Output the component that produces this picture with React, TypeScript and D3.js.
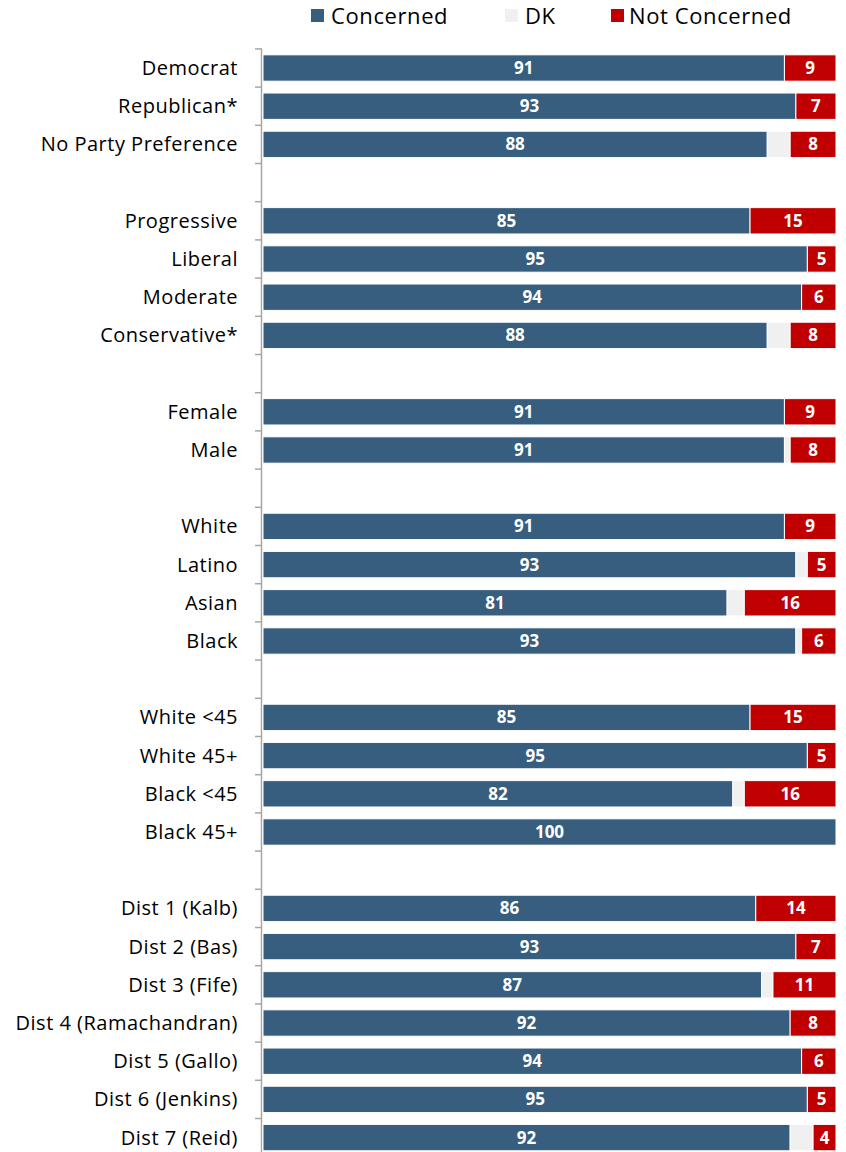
import React from "react";
import * as d3 from "d3";

const categories = [
  "Democrat", "Republican*", "No Party Preference", "",
  "Progressive", "Liberal", "Moderate", "Conservative*", "",
  "Female", "Male", "",
  "White", "Latino", "Asian", "Black", "",
  "White <45", "White 45+", "Black <45", "Black 45+", "",
  "Dist 1 (Kalb)", "Dist 2 (Bas)", "Dist 3 (Fife)", "Dist 4 (Ramachandran)", "Dist 5 (Gallo)", "Dist 6 (Jenkins)", "Dist 7 (Reid)",
];
const concerned = [91, 93, 88, null, 85, 95, 94, 88, null, 91, 91, null, 91, 93, 81, 93, null, 85, 95, 82, 100, null, 86, 93, 87, 92, 94, 95, 92];
const dk =        [0, 0, 4, null, 0, 0, 0, 4, null, 0, 1, null, 0, 2, 3, 1, null, 0, 0, 2, 0, null, 0, 0, 2, 0, 0, 0, 4];
const notConcerned = [9, 7, 8, null, 15, 5, 6, 8, null, 9, 8, null, 9, 5, 16, 6, null, 15, 5, 16, 0, null, 14, 7, 11, 8, 6, 5, 4];

const seriesNames = ["Concerned", "DK", "Not Concerned"];
const colors = ["#375e7e", "#f0f0f0", "#c00000"];

export default function App() {
  const W = 846, H = 1152;
  const x = d3.scaleLinear().domain([0, 100]).range([263, 836]);
  const idx = categories.map((_, i) => String(i));
  const y = d3.scaleBand().domain(idx).range([48.9, 48.9 + 29 * 38.2]).paddingInner(0.31).paddingOuter(0.155);
  const step = y.step();
  const top = 48.9;

  const rows = categories.map((c, i) => {
    if (concerned[i] === null) return null;
    const vals = [concerned[i] as number, dk[i] as number, notConcerned[i] as number];
    let acc = 0;
    const segs = vals.map((v, k) => {
      const s = { k, x0: acc, x1: acc + v, v };
      acc += v;
      return s;
    });
    return { c, i, segs };
  });

  const legendItems = [
    { name: seriesNames[0], sx: 311, tx: 331 },
    { name: seriesNames[1], sx: 505, tx: 525 },
    { name: seriesNames[2], sx: 611, tx: 629 },
  ];

  return (
    <div style={{ position: "absolute", left: 0, top: 0 }}>
      <svg width={W} height={H} style={{ display: "block", background: "#fff" }}>
        {legendItems.map((l, k) => (
          <g key={k}>
            <rect x={l.sx} y={9} width={13} height={13} fill={colors[k]} />
            <text x={l.tx} y={24} fontFamily="'Open Sans', sans-serif" fontSize={22} letterSpacing={0.6} fill="#000">{l.name}</text>
          </g>
        ))}
        {/* axis */}
        <line x1={261.5} x2={261.5} y1={top} y2={H + 10} stroke="#a6a6a6" strokeWidth={1.5} />
        {d3.range(0, 30).map((k) => (
          <line key={k} x1={255} x2={262} y1={top + k * step} y2={top + k * step} stroke="#a6a6a6" strokeWidth={1.5} />
        ))}
        {rows.map((r) =>
          r === null ? null : (
            <g key={r.i}>
              {r.segs.map((s) =>
                s.v > 0 ? (
                  <rect
                    key={s.k}
                    x={x(s.x0)}
                    y={y(String(r.i))}
                    width={x(s.x1) - x(s.x0)}
                    height={y.bandwidth()}
                    fill={colors[s.k]}
                    stroke="#fff"
                    strokeWidth={1}
                  />
                ) : null
              )}
              {r.segs.map((s) =>
                s.v > 0 && s.k !== 1 ? (
                  <text
                    key={"t" + s.k}
                    x={(x(s.x0) + x(s.x1)) / 2}
                    y={(y(String(r.i)) as number) + y.bandwidth() / 2 + 6}
                    textAnchor="middle"
                    fontFamily="'Open Sans', sans-serif"
                    fontWeight="bold"
                    fontSize={17}
                    fill="#fff"
                  >
                    {s.v}
                  </text>
                ) : null
              )}
              <text
                x={238}
                y={(y(String(r.i)) as number) + y.bandwidth() / 2 + 7}
                textAnchor="end"
                fontFamily="'Open Sans', sans-serif"
                fontSize={20}
                letterSpacing={0.5}
                fill="#000"
              >
                {r.c}
              </text>
            </g>
          )
        )}
      </svg>
    </div>
  );
}
